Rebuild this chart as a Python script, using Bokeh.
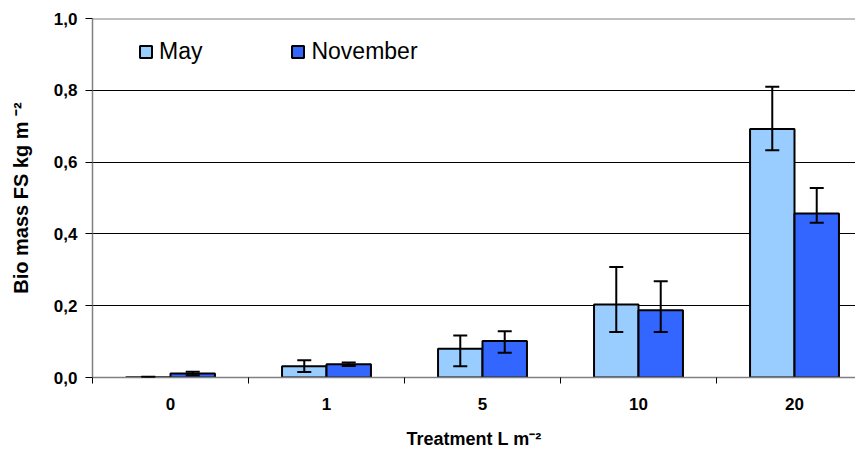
from bokeh.plotting import figure
from bokeh.models import (ColumnDataSource, Range1d, FixedTicker, Whisker, TeeHead,
                          Span, Legend, LegendItem)
from bokeh.embed import file_html
from bokeh.resources import INLINE

# ---- data ----
treatments = ["0", "1", "5", "10", "20"]
may_vals = [0.001, 0.031, 0.080, 0.203, 0.692]
may_low = [0.000, 0.015, 0.031, 0.127, 0.633]
may_high = [0.002, 0.048, 0.117, 0.308, 0.810]
nov_vals = [0.011, 0.037, 0.102, 0.187, 0.457]
nov_low = [0.006, 0.032, 0.069, 0.127, 0.431]
nov_high = [0.016, 0.042, 0.129, 0.268, 0.528]
y_ticks = [0.0, 0.2, 0.4, 0.6, 0.8, 1.0]
y_tick_labels = ["0,0", "0,2", "0,4", "0,6", "0,8", "1,0"]

MAY_COLOR = "#99CCFF"
NOV_COLOR = "#3366FF"
FONT = "Liberation Sans"

n = len(treatments)
centers = [i + 0.5 for i in range(n)]
bw = 0.285
off = bw / 2

may_src = ColumnDataSource(dict(x=[c - off for c in centers], top=may_vals,
                                lower=may_low, upper=may_high))
nov_src = ColumnDataSource(dict(x=[c + off for c in centers], top=nov_vals,
                                lower=nov_low, upper=nov_high))

W, H = 855, 451
left, top, bottom = 92, 18, 378
cat_px = 156

p = figure(width=W, height=H, output_backend="svg", toolbar_location=None,
           x_range=Range1d(0, (W - left) / cat_px), y_range=Range1d(0, 1.0),
           min_border_left=left, min_border_right=0, min_border_top=top,
           min_border_bottom=H - bottom)
p.outline_line_color = None
p.background_fill_color = "white"
p.border_fill_color = "white"

# grid
p.xgrid.visible = False
p.ygrid.ticker = FixedTicker(ticks=[0.2, 0.4, 0.6, 0.8])
p.ygrid.grid_line_color = "black"
p.ygrid.grid_line_width = 1
p.add_layout(Span(location=1.0, dimension="width", line_color="#808080", line_width=2))

# bars
r_may = p.vbar(x="x", top="top", width=bw, bottom=0, source=may_src,
               fill_color=MAY_COLOR, line_color="black", line_width=2)
r_nov = p.vbar(x="x", top="top", width=bw, bottom=0, source=nov_src,
               fill_color=NOV_COLOR, line_color="black", line_width=2)

for src in (may_src, nov_src):
    p.add_layout(Whisker(source=src, base="x", lower="lower", upper="upper",
                         level="overlay", line_color="black", line_width=2,
                         upper_head=TeeHead(size=14, line_color="black", line_width=2),
                         lower_head=TeeHead(size=14, line_color="black", line_width=2)))

# y axis
ya = p.yaxis[0]
ya.ticker = FixedTicker(ticks=y_ticks)
ya.major_label_overrides = {t: l for t, l in zip(y_ticks, y_tick_labels)}
ya.axis_line_color = "#808080"
ya.axis_line_width = 1.5
ya.major_tick_line_color = "black"
ya.major_tick_out = 7
ya.major_tick_in = 0
ya.minor_tick_line_color = None
ya.major_label_standoff = 8
ya.major_label_text_font = FONT
ya.major_label_text_font_style = "bold"
ya.major_label_text_font_size = "17px"
ya.major_label_text_color = "black"
ya.axis_label = "Bio mass FS kg m \u207b\u00b2"
ya.axis_label_text_font = FONT
ya.axis_label_text_font_style = "bold"
ya.axis_label_text_font_size = "20px"
ya.axis_label_text_color = "black"
ya.axis_label_standoff = 19

# x axis
xa = p.xaxis[0]
xa.ticker = FixedTicker(ticks=centers, minor_ticks=[0, 1, 2, 3, 4])
xa.major_label_overrides = {c: t for c, t in zip(centers, treatments)}
xa.axis_line_color = "#808080"
xa.axis_line_width = 1.5
xa.major_tick_line_color = None
xa.major_tick_out = 0
xa.major_tick_in = 0
xa.minor_tick_line_color = "black"
xa.minor_tick_out = 6
xa.minor_tick_in = 0
xa.major_label_standoff = 14
xa.major_label_text_font = FONT
xa.major_label_text_font_style = "bold"
xa.major_label_text_font_size = "17px"
xa.major_label_text_color = "black"
xa.axis_label = "Treatment L m\u207b\u00b2"
xa.axis_label_text_font = FONT
xa.axis_label_text_font_style = "bold"
xa.axis_label_text_font_size = "18px"
xa.axis_label_text_color = "black"
xa.axis_label_standoff = 16

# legend
legend = Legend(items=[LegendItem(label="May", renderers=[r_may]),
                       LegendItem(label="November", renderers=[r_nov])],
                orientation="horizontal", location=(46, 312),
                glyph_width=15, glyph_height=15, label_standoff=6, spacing=88,
                padding=0, margin=0, border_line_color=None,
                background_fill_alpha=0,
                label_text_font=FONT, label_text_font_size="23px",
                label_text_color="black")
p.add_layout(legend, "center")

open("out.html", "w").write(file_html(p, INLINE))
